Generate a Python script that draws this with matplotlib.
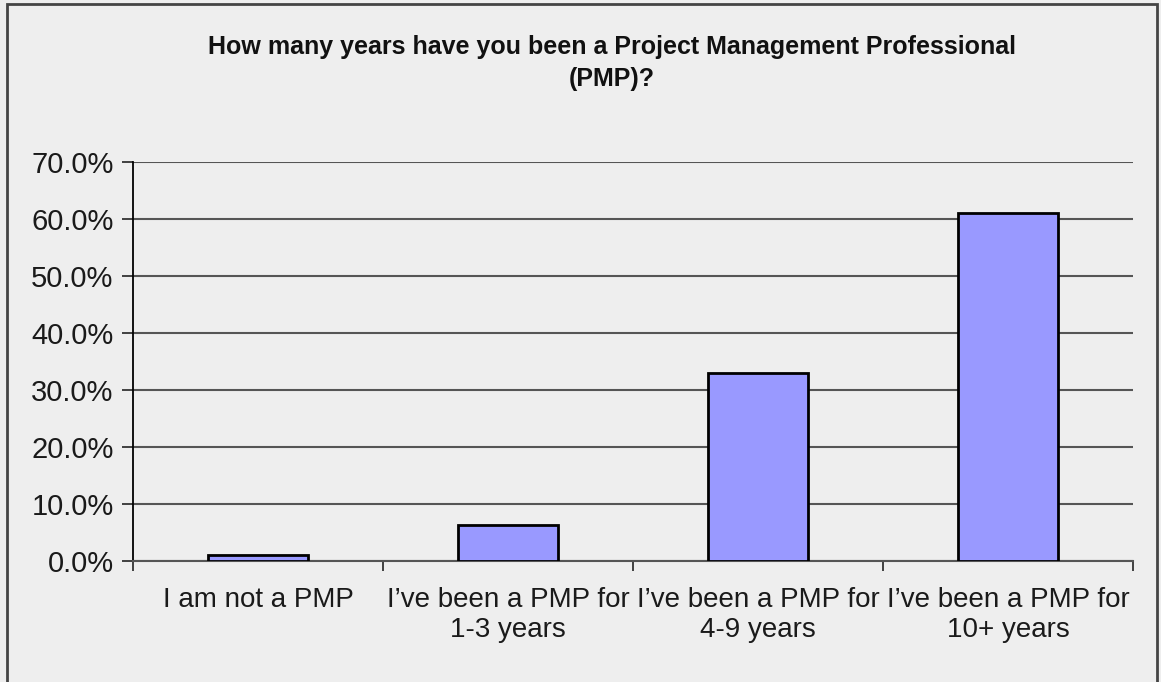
import matplotlib
matplotlib.use("Agg")
import matplotlib.pyplot as plt
from matplotlib.ticker import FuncFormatter, FixedLocator
from matplotlib.patches import Rectangle
from matplotlib import font_manager

categories = ["I am not a PMP", "I\u2019ve been a PMP for\n1-3 years",
              "I\u2019ve been a PMP for\n4-9 years", "I\u2019ve been a PMP for\n10+ years"]
values = [1.0, 6.3, 33.0, 61.0]
yticks = [0, 10, 20, 30, 40, 50, 60, 70]
title = "How many years have you been a Project Management Professional\n(PMP)?"

names = {f.name for f in font_manager.fontManager.ttflist}
title_font = "Liberation Sans Narrow" if "Liberation Sans Narrow" in names else "Liberation Sans"

W, H = 1161, 682
fig = plt.figure(figsize=(W / 100, H / 100), dpi=100, facecolor="#EEEEEE")
ax = fig.add_axes([133 / W, (H - 561) / H, 1000 / W, 399 / H])
ax.set_facecolor("#EEEEEE")

x = list(range(len(categories)))
ax.bar(x, values, width=0.4, color="#9999FF", edgecolor="black", linewidth=2, zorder=3)

ax.set_xlim(-0.5, len(categories) - 0.5)
ax.set_ylim(0, 70)
ax.set_yticks(yticks)
ax.yaxis.set_major_formatter(FuncFormatter(lambda v, p: f"{v:.1f}%"))
ax.yaxis.grid(True, color="#555555", linewidth=1.5, zorder=0)
ax.set_axisbelow(True)

ax.set_xticks(x)
ax.set_xticklabels(categories, fontfamily="Liberation Sans", fontsize=20, color="#1a1a1a",
                   linespacing=1.2)
ax.tick_params(axis="x", which="major", length=0, pad=19)
ax.xaxis.set_minor_locator(FixedLocator([-0.5 + i for i in range(len(categories) + 1)]))
ax.tick_params(axis="x", which="minor", length=7, width=1.3, color="#333333", direction="out")
ax.tick_params(axis="y", length=8, width=1.3, color="#333333", pad=6,
               labelsize=21, labelcolor="#1a1a1a")
for lab in ax.get_yticklabels():
    lab.set_fontfamily("Liberation Sans")

for s in ["top", "right"]:
    ax.spines[s].set_visible(False)
ax.spines["left"].set_color("black")
ax.spines["left"].set_linewidth(1.3)
ax.spines["bottom"].set_color("#555555")
ax.spines["bottom"].set_linewidth(1.5)

fig.text(612 / W, 1 - 35 / H, title, ha="center", va="top", fontsize=18,
         fontfamily=title_font, fontweight="bold", color="#111111", linespacing=1.4)

fig.patches.append(Rectangle((7 / W, -0.01), (1157 - 7) / W, 1.01 - 4 / H,
                             transform=fig.transFigure, fill=False,
                             edgecolor="#444444", linewidth=2))

fig.savefig("out.png", dpi=100, facecolor=fig.get_facecolor())
